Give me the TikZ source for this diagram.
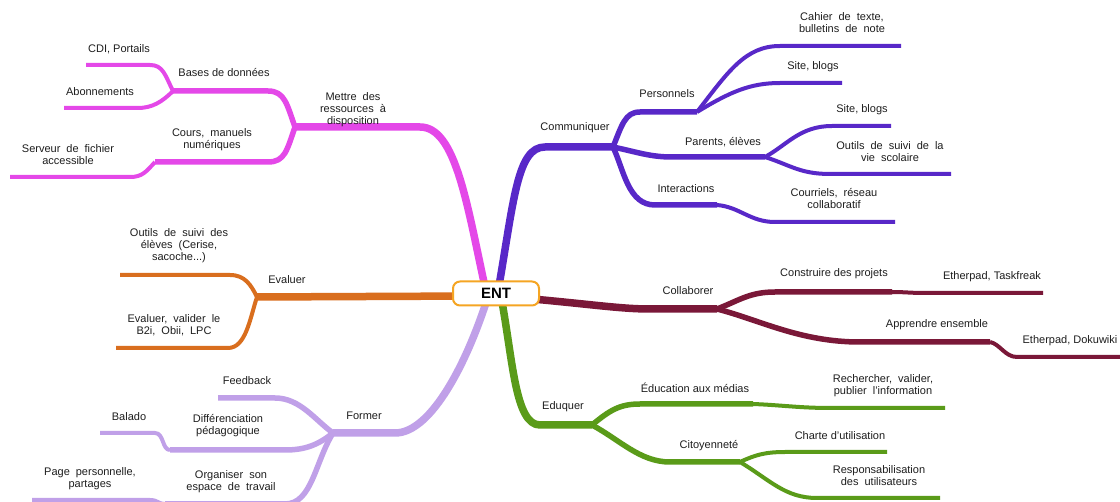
\documentclass[tikz,border=0pt]{standalone}
\usepackage{fontspec}
\setmainfont{Liberation Sans}
\usetikzlibrary{backgrounds,calc}
\definecolor{cMag}{RGB}{228,72,232}
\definecolor{cPur}{RGB}{88,40,200}
\definecolor{cOra}{RGB}{217,110,30}
\definecolor{cLav}{RGB}{192,160,232}
\definecolor{cMar}{RGB}{122,24,56}
\definecolor{cGre}{RGB}{90,155,25}
\definecolor{cEnt}{RGB}{245,165,35}
\definecolor{txt}{RGB}{30,30,30}
\newcommand\mywidesp{\spaceskip=6pt plus 1pt\relax}
\begin{document}
\begin{tikzpicture}[x=1pt,y=-1pt,
  lbl/.style={font=\fontsize{11}{12}\selectfont, text=txt, align=center, inner sep=0pt},
  wlbl/.style={lbl, font=\fontsize{11}{12}\selectfont\mywidesp},
  mainb/.style={line width=7.5pt, line join=round},
  subb/.style={line width=5.5pt, line join=round},
  leafb/.style={line width=4pt, line join=round},
  entbox/.style={draw=cEnt, line width=2pt, fill=white, rounded corners=7pt,
    minimum width=86pt, minimum height=24pt, inner sep=0pt,
    font=\fontsize{15}{15}\selectfont\bfseries}]
\useasboundingbox (0,0) rectangle (1120,502);

\node[entbox] (ent) at (496,293.5) {ENT};

% junction and end coordinates
\coordinate (jM) at (295,127);
\coordinate (jB) at (173,91);
\coordinate (jC) at (155,162);
\coordinate (lCDI) at (86,65);
\coordinate (lAbo) at (64,108);
\coordinate (lSer) at (10,177);
\coordinate (jCom) at (613,147);
\coordinate (jP) at (697,112);
\coordinate (jQ) at (765,157);
\coordinate (jI) at (717,205);
\coordinate (lCah) at (901,46);
\coordinate (lSb1) at (842,83);
\coordinate (lSb2) at (891,126);
\coordinate (lOut) at (951,174);
\coordinate (lCou) at (895,222);
\coordinate (jE) at (257,297);
\coordinate (lOel) at (120,275);
\coordinate (lEva) at (116,348);
\coordinate (jK) at (717,309);
\coordinate (jCo) at (892,292);
\coordinate (jA) at (990,342);
\coordinate (lTas) at (1043,293);
\coordinate (lDok) at (1122,357);
\coordinate (jF) at (333,433);
\coordinate (lFee) at (218,398);
\coordinate (jD) at (170,450);
\coordinate (lBal) at (100,433);
\coordinate (jO) at (165,504);
\coordinate (lPag) at (32,500);
\coordinate (jG) at (592,425);
\coordinate (jEm) at (753,404);
\coordinate (lRec) at (945,408);
\coordinate (jZ) at (740,462);
\coordinate (lCha) at (887,452);
\coordinate (lRes) at (940,498);

\begin{scope}[on background layer]
\fill[white] (0,0) rectangle (1120,502);
% Mettre des ressources
\draw[cMag, mainb] ($(ent.center)+(-10,-2)$) .. controls (467,205) and (456,127) .. (420,127) -- (jM);
\draw[cMag, subb] (jM) .. controls (287,105) and (285,91) .. (268,91) -- (jB);
\draw[cMag, subb] (jM) .. controls (287,150) and (285,162) .. (268,162) -- (jC);
\draw[cMag, leafb] (jB) .. controls (165,75) and (163,65) .. (150,65) -- (lCDI);
\draw[cMag, leafb] (jB) .. controls (162,102) and (152,108) .. (138,108) -- (lAbo);
\draw[cMag, leafb] (jC) .. controls (146,172) and (142,177) .. (130,177) -- (lSer);
% Communiquer
\draw[cPur, mainb] ($(ent.center)+(2,-2)$) .. controls (514,200) and (517,147) .. (545,147) -- (jCom);
\draw[cPur, subb] (jCom) .. controls (622,125) and (625,112) .. (640,112) -- (jP);
\draw[cPur, subb] (jCom) .. controls (637,152) and (650,157) .. (672,157) -- (jQ);
\draw[cPur, subb] (jCom) .. controls (624,170) and (628,205) .. (655,205) -- (jI);
\draw[cPur, leafb] (jP) .. controls (728,72) and (745,46) .. (780,46) -- (lCah);
\draw[cPur, leafb] (jP) .. controls (730,92) and (750,83) .. (780,83) -- (lSb1);
\draw[cPur, leafb] (jQ) .. controls (787,145) and (800,126) .. (832,126) -- (lSb2);
\draw[cPur, leafb] (jQ) .. controls (790,165) and (800,174) .. (830,174) -- (lOut);
\draw[cPur, leafb] (jI) .. controls (740,207) and (750,222) .. (775,222) -- (lCou);
% Evaluer
\draw[cOra, mainb] ($(ent.center)+(-20,2.5)$) -- (jE);
\draw[cOra, leafb] (jE) .. controls (251,285) and (245,275) .. (230,275) -- (lOel);
\draw[cOra, leafb] (jE) .. controls (250,318) and (246,348) .. (228,348) -- (lEva);
% Collaborer
\draw[cMar, mainb] ($(ent.center)+(20,4)$) .. controls (590,304) and (620,309) .. (650,309) -- (jK);
\draw[cMar, subb] (jK) .. controls (740,300) and (750,292) .. (775,292) -- (jCo);
\draw[cMar, subb] (jK) .. controls (760,320) and (800,342) .. (860,342) -- (jA);
\draw[cMar, leafb] (jCo) .. controls (905,292) and (910,293) .. (925,293) -- (lTas);
\draw[cMar, leafb] (jA) .. controls (1000,344) and (1005,357) .. (1017,357) -- (lDok);
% Former
\draw[cLav, mainb] ($(ent.center)+(-8,3)$) .. controls (468,360) and (432,433) .. (395,433) -- (jF);
\draw[cLav, subb] (jF) .. controls (315,420) and (300,398) .. (275,398) -- (lFee);
\draw[cLav, subb] (jF) .. controls (318,445) and (305,450) .. (285,450) -- (jD);
\draw[cLav, subb] (jF) .. controls (315,462) and (312,504) .. (285,504) -- (jO);
\draw[cLav, leafb] (jD) .. controls (162,450) and (164,433) .. (155,433) -- (lBal);
\draw[cLav, leafb] (jO) .. controls (158,504) and (158,500) .. (150,500) -- (lPag);
% Eduquer
\draw[cGre, mainb] ($(ent.center)+(5,3)$) .. controls (513,360) and (515,425) .. (540,425) -- (jG);
\draw[cGre, subb] (jG) .. controls (610,410) and (620,404) .. (640,404) -- (jEm);
\draw[cGre, subb] (jG) .. controls (620,440) and (640,462) .. (670,462) -- (jZ);
\draw[cGre, leafb] (jEm) .. controls (780,405) and (800,408) .. (830,408) -- (lRec);
\draw[cGre, leafb] (jZ) .. controls (755,455) and (765,452) .. (785,452) -- (lCha);
\draw[cGre, leafb] (jZ) .. controls (770,480) and (785,498) .. (817,498) -- (lRes);
\end{scope}

% labels
\node[wlbl] (tM) at (353,110) {Mettre des\\ressources à\\disposition};
\node[lbl] (tB) at (224,73) {Bases de données};
\node[lbl] (tCDI) at (119,49) {CDI, Portails};
\node[lbl] (tAbo) at (100,92) {Abonnements};
\node[wlbl] (tC) at (212,140) {Cours, manuels\\numériques};
\node[wlbl] (tSer) at (68,155) {Serveur de fichier\\accessible};
\node[lbl] (tCom) at (575,128) {Communiquer};
\node[lbl] (tP) at (667,94) {Personnels};
\node[wlbl] (tCah) at (842,23) {Cahier de texte,\\bulletins de note};
\node[lbl] (tSb1) at (813,67) {Site, blogs};
\node[lbl] (tQ) at (723,142) {Parents, élèves};
\node[lbl] (tSb2) at (862,110) {Site, blogs};
\node[wlbl] (tOut) at (890,152) {Outils de suivi de la\\vie scolaire};
\node[lbl] (tI) at (686,189) {Interactions};
\node[wlbl] (tCou) at (834,199) {Courriels, réseau\\collaboratif};
\node[lbl] (tE) at (287,280) {Evaluer};
\node[wlbl] (tOel) at (179,246) {Outils de suivi des\\élèves (Cerise,\\sacoche...)};
\node[wlbl] (tEva) at (174,325) {Evaluer, valider le\\B2i, Obii, LPC};
\node[lbl] (tK) at (688,291) {Collaborer};
\node[lbl] (tCo) at (834,274) {Construire des projets};
\node[lbl] (tTas) at (992,277) {Etherpad, Taskfreak};
\node[lbl] (tA) at (937,325) {Apprendre ensemble};
\node[lbl] (tDok) at (1070,341) {Etherpad, Dokuwiki};
\node[lbl] (tF) at (364,416) {Former};
\node[lbl] (tFee) at (247,381) {Feedback};
\node[lbl] (tBal) at (129,417) {Balado};
\node[wlbl] (tD) at (228,426) {Différenciation\\pédagogique};
\node[wlbl] (tPag) at (90,479) {Page personnelle,\\partages};
\node[wlbl] (tO) at (231,482) {Organiser son\\espace de travail};
\node[lbl] (tG) at (563,407) {Eduquer};
\node[lbl] (tEm) at (695,388) {Éducation aux médias};
\node[wlbl] (tRec) at (883,386) {Rechercher, valider,\\publier l'information};
\node[lbl] (tZ) at (709,446) {Citoyenneté};
\node[lbl] (tCha) at (840,436) {Charte d'utilisation};
\node[wlbl] (tRes) at (879,476) {Responsabilisation\\des utilisateurs};
\end{tikzpicture}
\end{document}
